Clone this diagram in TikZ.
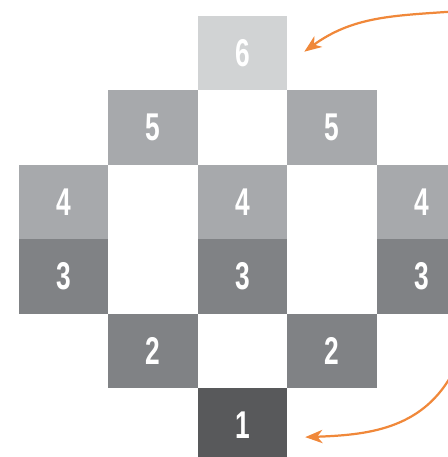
\documentclass[tikz,border=0pt]{standalone}
\usepackage{fontspec}
\usetikzlibrary{arrows.meta}
\newfontfamily\cellfont[FakeStretch=0.68]{Liberation Sans}
\definecolor{tone1}{HTML}{58595B}
\definecolor{tone2}{HTML}{808285}
\definecolor{tone3}{HTML}{A7A9AC}
\definecolor{tone4}{HTML}{D1D3D4}
\definecolor{arrowor}{HTML}{F0883A}
\begin{document}
\begin{tikzpicture}[x=2.68cm, y=2.23cm,
    cell/.style={minimum width=2.68cm, minimum height=2.23cm, inner sep=0pt, outer sep=0pt,
        text=white, font=\cellfont\bfseries\fontsize{33}{34}\selectfont},
    hop/.style={arrowor, line width=1.9pt, -{Stealth[length=5.2mm, width=4mm, inset=1.6mm]}}]
    \useasboundingbox (-0.713,-0.427) rectangle (4.293,5.715);

    % Top row
    \node[cell, fill=tone4] (S6) at (2,5) {6};

    % Level 5
    \node[cell, fill=tone3] (S5a) at (1,4) {5};
    \node[cell, fill=tone3] (S5b) at (3,4) {5};

    % Level 4
    \node[cell, fill=tone3] (S4a) at (0,3) {4};
    \node[cell, fill=tone3] (S4b) at (2,3) {4};
    \node[cell, fill=tone3] (S4c) at (4,3) {4};

    % Level 3
    \node[cell, fill=tone2] (S3a) at (0,2) {3};
    \node[cell, fill=tone2] (S3b) at (2,2) {3};
    \node[cell, fill=tone2] (S3c) at (4,2) {3};

    % Level 2
    \node[cell, fill=tone2] (S2a) at (1,1) {2};
    \node[cell, fill=tone2] (S2b) at (3,1) {2};

    % Bottom row
    \node[cell, fill=tone1] (S1) at (2,0) {1};

    % Arrows coming in from the right
    \coordinate (topin) at (4.35,5.56);
    \coordinate (toptip) at (2.69,5.02);
    \coordinate (botin) at (4.33,0.66);
    \coordinate (bottip) at (2.70,-0.16);
    \draw[hop] (topin) to[out=184, in=36] (toptip);
    \draw[hop] (botin) to[out=240, in=2] (bottip);
\end{tikzpicture}
\end{document}
